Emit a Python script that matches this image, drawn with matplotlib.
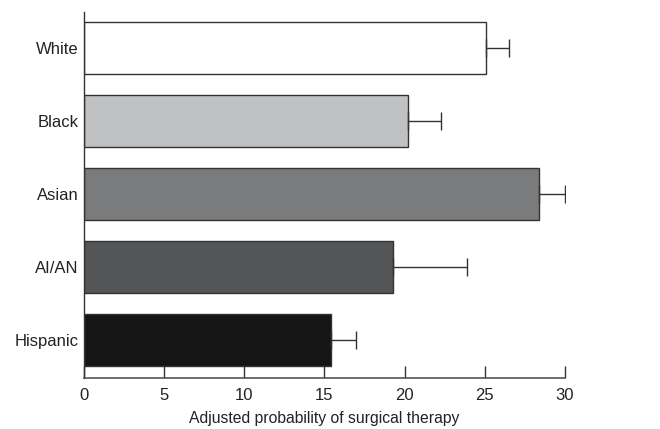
import numpy as np
import matplotlib.pyplot as plt

plt.rcParams['font.family'] = ['Liberation Sans', 'DejaVu Sans']

groups = ['White', 'Black', 'Asian', 'AI/AN', 'Hispanic']
probs = [25.1, 20.2, 28.4, 19.3, 15.4]
upperErr = [1.4, 2.1, 1.6, 4.6, 1.6]
barColors = ['#ffffff', '#c0c1c3', '#7a7b7d', '#545556', '#151515']

fig = plt.figure(figsize=(6.6, 4.29), dpi=100)
ax = fig.add_axes([0.127, 0.119, 0.729, 0.853])

ypos = np.arange(len(groups))[::-1]
ax.barh(ypos, probs, height=0.72, color=barColors, edgecolor='#333333', linewidth=1)
ax.errorbar(probs, ypos, xerr=[np.zeros(len(probs)), upperErr], fmt='none',
            ecolor='#333333', elinewidth=1, capsize=6.8, capthick=1)

ax.set_xlim(0, 30)
ax.set_ylim(-0.52, 4.49)
ax.set_xticks([0, 5, 10, 15, 20, 25, 30])
ax.set_yticks(ypos)
ax.set_yticklabels(groups)
ax.tick_params(axis='x', direction='in', length=9, width=1, labelsize=12, pad=7,
               color='#333333', labelcolor='#222222')
ax.tick_params(axis='y', length=0, labelsize=12, pad=3.5, labelcolor='#222222')
ax.set_xlabel('Adjusted probability of surgical therapy', fontsize=11.3, labelpad=6, color='#222222')

for s in ['top', 'right']:
    ax.spines[s].set_visible(False)
ax.spines['left'].set_color('#333333')
ax.spines['bottom'].set_color('#555555')
ax.spines['left'].set_linewidth(1)
ax.spines['bottom'].set_linewidth(1.2)

fig.savefig('out.png', dpi=100)
